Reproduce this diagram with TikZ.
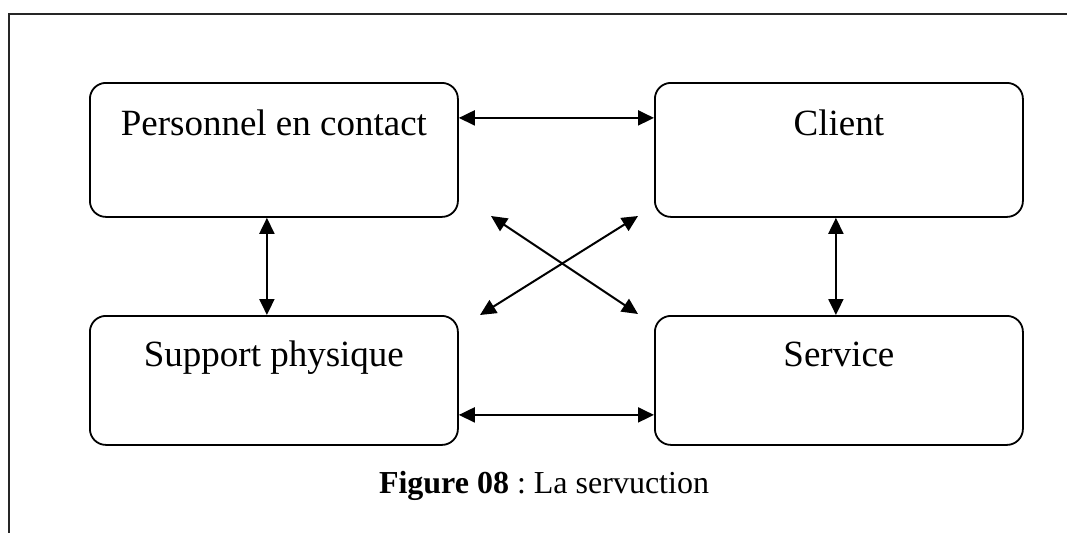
\documentclass[tikz,border=0pt]{standalone}
\usepackage{fontspec}
\setmainfont{Liberation Serif}
\usetikzlibrary{arrows.meta,calc}

\tikzset{
  box/.style={draw, line width=1.8pt, rounded corners=16pt,
    minimum width=368pt, inner sep=0pt, anchor=north west,
    font=\fontsize{37}{44}\selectfont},
  topbox/.style={box, text height=53pt, text depth=81pt},
  lowbox/.style={box, text height=51pt, text depth=78pt},
  link/.style={line width=2pt, {Triangle[length=16pt,width=15pt]}-{Triangle[length=16pt,width=15pt]}},
  frame/.style={line width=1.3pt, draw=black!85}
}

\begin{document}
\frenchspacing
\begin{tikzpicture}[x=1pt,y=-1pt]
  \useasboundingbox (0,0) rectangle (1067,533);

  % page frame (top and left edges only)
  \draw[frame] (1067,14) -- (9,14) -- (9,533);

  % the four elements
  \node[topbox] (pc) at (89,82)   {Personnel en contact};
  \node[topbox] (cl) at (654,82)  {Client};
  \node[lowbox] (sp) at (89,315)  {Support physique};
  \node[lowbox] (sv) at (654,315) {Service};

  % free ends of the crossing arrows
  \coordinate (xul) at (491,216);
  \coordinate (xlr) at (638,314);
  \coordinate (xur) at (638,216);
  \coordinate (xll) at (480,315);

  % links between the elements
  \draw[link] ($(pc.east)+(0,-32)$) -- ($(cl.west)+(0,-32)$);
  \draw[link] ($(sp.east)+(0,34.5)$) -- ($(sv.west)+(0,34.5)$);
  \draw[link] ($(pc.south)+(-7,0)$) -- ($(sp.north)+(-7,0)$);
  \draw[link] ($(cl.south)+(-3,0)$) -- ($(sv.north)+(-3,0)$);
  \draw[link] (xul) -- (xlr);
  \draw[link] (xur) -- (xll);

  % caption
  \node[anchor=base, inner sep=0pt, font=\fontsize{32}{38}\selectfont] (cap) at (544,493)
    {\textbf{Figure 08} : La servuction};
\end{tikzpicture}
\end{document}
